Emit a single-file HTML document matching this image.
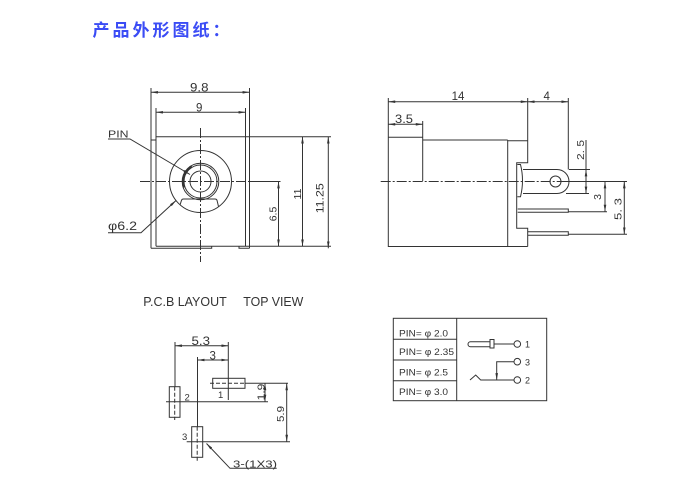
<!DOCTYPE html>
<html><head><meta charset="utf-8"><style>
html,body{margin:0;padding:0;background:#fff;}
svg{display:block;}
text{font-family:"Liberation Sans",Arial,sans-serif;fill:#333;}
</style></head><body>
<svg width="691" height="504" viewBox="0 0 691 504" xmlns="http://www.w3.org/2000/svg">
<defs>
<marker id="ar" viewBox="0 0 8 3" refX="8" refY="1.5" markerWidth="7" markerHeight="2.6" markerUnits="userSpaceOnUse" orient="auto-start-reverse"><path d="M0,0L8,1.5L0,3z" fill="#333"/></marker>
</defs>
<rect width="691" height="504" fill="#fff"/>
<text x="92.5" y="36" font-size="17" font-weight="bold" letter-spacing="3" style="font-family:'Liberation Sans','Noto Sans CJK SC',sans-serif;fill:#3b4cf5">产品外形图纸：</text>

<g stroke="#333" stroke-width="1" fill="none">
<!-- FRONT VIEW -->
<path d="M151,88V248.3 M156,108V246.3 M245.5,108V246.3 M249.5,88V248.3"/>
<path d="M156,136.7H331 M151,140H156"/>
<path d="M151,248.3H211.7V246.3 M156,246.3H331 M239,246.3V248.3H249.5"/>
<line x1="151" y1="92.3" x2="249.5" y2="92.3" marker-start="url(#ar)" marker-end="url(#ar)"/>
<line x1="156" y1="112.3" x2="245.5" y2="112.3" marker-start="url(#ar)" marker-end="url(#ar)"/>
<line x1="278.5" y1="181.5" x2="278.5" y2="246.3" marker-start="url(#ar)" marker-end="url(#ar)"/>
<line x1="302.5" y1="136.7" x2="302.5" y2="246.3" marker-start="url(#ar)" marker-end="url(#ar)"/>
<line x1="328.3" y1="136.7" x2="328.3" y2="248.3" marker-start="url(#ar)" marker-end="url(#ar)"/>
<line x1="200.5" y1="128" x2="200.5" y2="262" stroke-dasharray="10 2 2 2"/>
<line x1="140" y1="181.5" x2="250" y2="181.5" stroke-dasharray="10 2 2 2"/>
<line x1="250" y1="181.5" x2="280.5" y2="181.5"/>
<circle cx="200.5" cy="181.5" r="31"/>
<circle cx="200.5" cy="181.5" r="18.3"/>
<circle cx="200.5" cy="181.5" r="16.5"/>
<circle cx="200.5" cy="181.5" r="10.5"/>
<path d="M184.15,187.45 A17.4,17.4 0 0 1 191.8,166.4" stroke-width="2"/>
<path d="M180,205 L181.5,200.3 Q182,199 183.5,199 H215 Q216.5,199 217,200.3 L218.5,206.5"/>
<path d="M108,139H130L190,174.5" marker-end="url(#ar)"/>
<path d="M108,232.7H141L176,200.5" marker-end="url(#ar)"/>

<!-- SIDE VIEW -->
<path d="M388.3,98V246.5H527.7 M388.3,137.3H422.7 M422.7,121V181 M422.7,140H507.7 M507.7,140V246.5"/>
<path d="M507.7,140.7H527.7 M527.7,98V162.7H516.7V228.3H527.7V246.5"/>
<path d="M517.3,164.5H520.5 Q524.5,180.5 520.5,196.7 H517.3"/>
<path d="M523,169.5H557A12,12 0 0 1 557,193.5H523"/>
<circle cx="555.5" cy="181.5" r="5.5"/>
<path d="M569,169.5H590 M566,193.5H589 M568.3,98V169.5"/>
<path d="M517.7,209H568.3V212.3H517.7 M568.3,211.7H607"/>
<path d="M527.7,231.7H568.3V235.3H527.7 M568.3,234.3H627"/>
<line x1="380.7" y1="181.5" x2="565" y2="181.5" stroke-dasharray="10 2 2 2"/>
<line x1="565" y1="181.5" x2="627" y2="181.5"/>
<line x1="388.3" y1="101.7" x2="527.7" y2="101.7" marker-start="url(#ar)" marker-end="url(#ar)"/>
<line x1="527.7" y1="101.7" x2="568.3" y2="101.7" marker-start="url(#ar)" marker-end="url(#ar)"/>
<line x1="388.3" y1="124.3" x2="422.7" y2="124.3" marker-start="url(#ar)" marker-end="url(#ar)"/>
<line x1="586" y1="140" x2="586" y2="169.5"/>
<line x1="586" y1="169.5" x2="586" y2="193.5" marker-start="url(#ar)" marker-end="url(#ar)"/>
<line x1="605" y1="181.5" x2="605" y2="211.7" marker-start="url(#ar)" marker-end="url(#ar)"/>
<line x1="624.3" y1="181.5" x2="624.3" y2="234.3" marker-start="url(#ar)" marker-end="url(#ar)"/>

<!-- PCB LAYOUT -->
<line x1="175" y1="345.7" x2="228.3" y2="345.7" marker-start="url(#ar)" marker-end="url(#ar)"/>
<line x1="197.5" y1="360" x2="228.3" y2="360" marker-start="url(#ar)" marker-end="url(#ar)"/>
<path d="M175,342V386.7 M197.5,357V426.7 M228.3,342V400"/>
<rect x="212.7" y="378.3" width="32.3" height="10"/>
<rect x="169.3" y="386.7" width="10.7" height="30.6"/>
<rect x="191.7" y="426.7" width="11" height="30.6"/>
<path d="M210,383.3H245" stroke-dasharray="4 2"/>
<path d="M245,383.3H288"/>
<path d="M174.7,386.7V420 M197.2,426.7V462" stroke-dasharray="4 2"/>
<path d="M166,401.7H268 M186.7,441.7H290"/>
<line x1="265" y1="383.3" x2="265" y2="401.7" marker-start="url(#ar)" marker-end="url(#ar)"/>
<line x1="286.7" y1="383.3" x2="286.7" y2="441.7" marker-start="url(#ar)" marker-end="url(#ar)"/>
<path d="M276.7,468.3H230L206.5,443.5" marker-end="url(#ar)"/>

<!-- TABLE -->
<rect x="393.3" y="318.3" width="153.4" height="82.4"/>
<path d="M456.7,318.3V400.7 M393.3,339.3H456.7 M393.3,360H456.7 M393.3,380.7H456.7"/>
<path d="M490,341.7H470.5A2.5,2.5 0 0 0 470.5,346.7H490"/>
<rect x="490" y="339.5" width="4" height="8.5"/>
<path d="M494,344H514"/>
<circle cx="517.3" cy="344" r="3.3"/>
<path d="M514,361.7H496.7V380" marker-end="url(#ar)"/>
<circle cx="517.3" cy="361.7" r="3.3"/>
<path d="M470,380L475.7,375L480.7,380H514"/>
<circle cx="517.3" cy="380" r="3.3"/>
</g>

<!-- TEXT -->
<text x="190" y="91.5" font-size="11.5" textLength="18.5" lengthAdjust="spacingAndGlyphs">9.8</text>
<text x="196" y="111.5" font-size="11.5">9</text>
<text x="108" y="137.7" font-size="10.5" textLength="20.5" lengthAdjust="spacingAndGlyphs">PIN</text>
<text x="108" y="230" font-size="11.5" textLength="29" lengthAdjust="spacingAndGlyphs">φ6.2</text>
<text transform="translate(276.3,214) rotate(-90)" text-anchor="middle" font-size="10.5">6.5</text>
<text transform="translate(301,194) rotate(-90)" text-anchor="middle" font-size="10.5">11</text>
<text transform="translate(323.5,198.3) rotate(-90)" text-anchor="middle" font-size="11" textLength="30" lengthAdjust="spacingAndGlyphs">11.25</text>

<text x="458" y="100" text-anchor="middle" font-size="11.5">14</text>
<text x="546.7" y="100" text-anchor="middle" font-size="11.5">4</text>
<text x="404" y="123" text-anchor="middle" font-size="11.5" textLength="18" lengthAdjust="spacingAndGlyphs">3.5</text>
<text transform="translate(584,150) rotate(-90)" text-anchor="middle" font-size="10.5" textLength="20" lengthAdjust="spacingAndGlyphs">2. 5</text>
<text transform="translate(601,197) rotate(-90)" text-anchor="middle" font-size="10.5">3</text>
<text transform="translate(621.7,209) rotate(-90)" text-anchor="middle" font-size="10.5" textLength="22" lengthAdjust="spacingAndGlyphs">5. 3</text>

<text x="143.3" y="306" font-size="13" textLength="83.4" lengthAdjust="spacingAndGlyphs">P.C.B LAYOUT</text>
<text x="243.3" y="306" font-size="13" textLength="60" lengthAdjust="spacingAndGlyphs">TOP VIEW</text>
<text x="191.5" y="345" font-size="11.5" textLength="18.5" lengthAdjust="spacingAndGlyphs">5.3</text>
<text x="209.5" y="359.5" font-size="11.5">3</text>
<text x="218" y="398" font-size="9.5">1</text>
<text x="184.5" y="400.5" font-size="9.5">2</text>
<text x="182" y="440" font-size="9.5">3</text>
<text transform="translate(264.3,392) rotate(-90)" text-anchor="middle" font-size="10.5" textLength="16.7" lengthAdjust="spacingAndGlyphs">1.9</text>
<text transform="translate(284,414) rotate(-90)" text-anchor="middle" font-size="10.5" textLength="16" lengthAdjust="spacingAndGlyphs">5.9</text>
<text x="233" y="467.3" font-size="10.5" textLength="44" lengthAdjust="spacingAndGlyphs">3-(1X3)</text>

<text x="399" y="336.5" font-size="9" textLength="49" lengthAdjust="spacingAndGlyphs">PIN= φ 2.0</text>
<text x="399" y="355" font-size="9" textLength="55" lengthAdjust="spacingAndGlyphs">PIN= φ 2.35</text>
<text x="399" y="375.7" font-size="9" textLength="49" lengthAdjust="spacingAndGlyphs">PIN= φ 2.5</text>
<text x="399" y="395" font-size="9" textLength="49" lengthAdjust="spacingAndGlyphs">PIN= φ 3.0</text>
<text x="525" y="347.3" font-size="9">1</text>
<text x="525" y="365.5" font-size="9">3</text>
<text x="525" y="383.5" font-size="9">2</text>
</svg>
</body></html>
